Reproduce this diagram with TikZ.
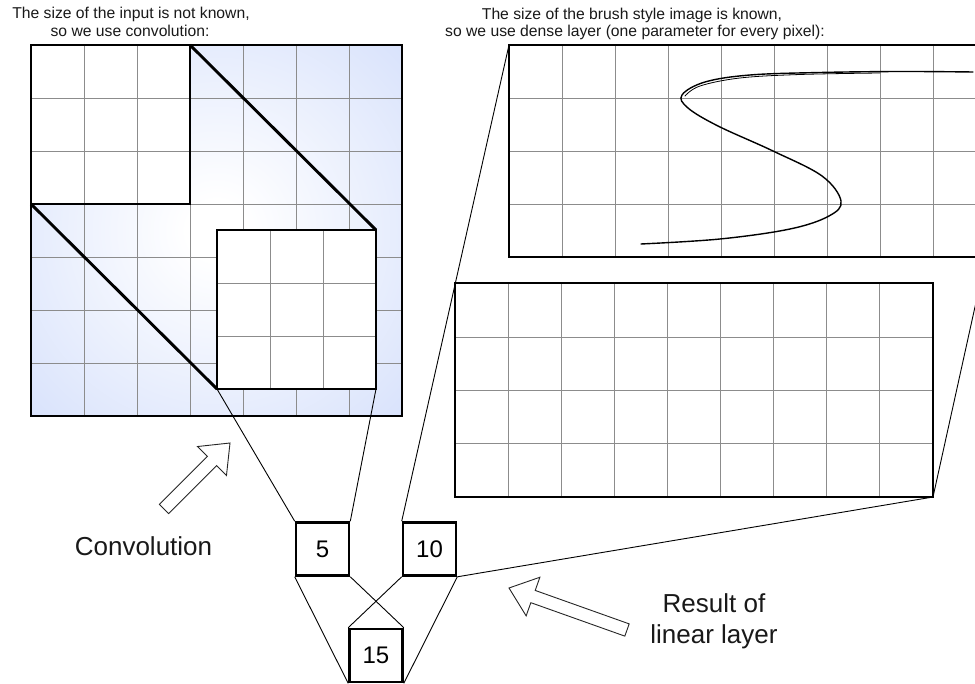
\documentclass[tikz,border=0pt]{standalone}
\usepackage{fontspec}
\setmainfont{Liberation Sans}
\usetikzlibrary{calc}
\definecolor{gridblue}{RGB}{200,214,250}
\definecolor{gridgray}{RGB}{140,140,140}
\pgfdeclareradialshading{convshade}{\pgfpoint{0bp}{0bp}}{color(0bp)=(white); color(4bp)=(white); color(38bp)=(gridblue!75!white); color(56bp)=(gridblue); color(72bp)=(gridblue)}
\begin{document}
\begin{tikzpicture}[x=1pt,y=-1pt,
  gline/.style={draw=gridgray,line width=0.9pt},
  boxborder/.style={draw=black,line width=2.9pt},
  link/.style={draw=black,line width=0.9pt},
  numbox/.style={draw=black,line width=2.6pt,minimum size=53pt,inner sep=0pt,font=\fontsize{24}{28}\selectfont},
  title/.style={font=\fontsize{15.7}{18}\selectfont,anchor=base,inner sep=0pt,text=black!90},
  biglabel/.style={font=\fontsize{26}{30}\selectfont,anchor=base,inner sep=0pt,text=black!90},
  blockarrow/.style={draw=black!85,line width=0.9pt,fill=white,line join=miter},
  curve/.style={draw=black,line width=1.4pt,line cap=round}]
\clip (0,0) rectangle (975,684);
\fill[white] (0,0) rectangle (975,684);

% ---------- left convolution grid ----------
\shade[shading=convshade] (31,45) rectangle (402,416);
\foreach \i in {1,...,6} {
  \draw[gline] ({31+53*\i},45) -- ({31+53*\i},416);
  \draw[gline] (31,{45+53*\i}) -- (402,{45+53*\i});
}
\draw[black,line width=1.1pt] (31,45) rectangle (402,416);

% kernel position 1
\fill[white] (31,45) rectangle (190,204);
\foreach \v in {84,137} { \draw[gline] (\v,45) -- (\v,204); }
\foreach \v in {98,151} { \draw[gline] (31,\v) -- (190,\v); }
\draw[boxborder] (31,45) rectangle (190,204);
\coordinate (k1-ne) at (190,45);
\coordinate (k1-sw) at (31,204);

% kernel position 2
\fill[white] (217,230) rectangle (376,389);
\foreach \v in {270,323} { \draw[gline] (\v,230) -- (\v,389); }
\foreach \v in {283,336} { \draw[gline] (217,\v) -- (376,\v); }
\draw[boxborder] (217,230) rectangle (376,389);
\coordinate (k2-ne) at (376,230);
\coordinate (k2-sw) at (217,389);
\coordinate (k2-se) at (376,389);

\draw[boxborder] (k1-ne) -- (k2-ne);
\draw[boxborder] (k1-sw) -- (k2-sw);

% ---------- top dense grid (brush image) ----------
\fill[white] (509,45) rectangle (986,257);
\foreach \i in {1,...,8} { \draw[gline] ({509+53*\i},45) -- ({509+53*\i},257); }
\foreach \v in {98,151,204} { \draw[gline] (509,\v) -- (986,\v); }
\draw[boxborder] (509,45) rectangle (986,257);
\coordinate (d1-nw) at (509,45);
\coordinate (d1-se) at (986,257);

% S-shaped brush stroke
\draw[curve] plot[smooth,tension=0.6] coordinates {(973,72) (900,71.5) (820,72.5) (750,75) (705,82) (682,95) (688,108) (718,126) (773,151) (822,176) (841,201) (829,216) (790,229) (720,239) (641,244)};
\draw[curve,line width=0.8pt] plot[smooth,tension=0.6] coordinates {(880,73) (800,74.5) (740,78) (700,86) (685,96)};

% ---------- bottom dense grid ----------
\fill[white] (455,283) rectangle (933,497);
\foreach \i in {1,...,8} { \draw[gline] ({455+53.1*\i},283) -- ({455+53.1*\i},497); }
\foreach \v in {337,390,443} { \draw[gline] (455,\v) -- (933,\v); }
\draw[boxborder] (455,283) rectangle (933,497);
\coordinate (d2-se) at (933,497);

% ---------- value boxes ----------
\node[numbox] (b5) at (322.5,549) {5};
\node[numbox] (b10) at (429.5,549) {10};
\node[numbox] (b15) at (376,655.5) {15};

% ---------- connectors ----------
\draw[link] (k2-sw) -- (b5.north west);
\draw[link] (k2-se) -- (b5.north east);
\draw[link] (b10.north west) -- (d1-nw);
\draw[link] (b10.south east) -- (d2-se);
\draw[link] (d2-se) -- (d1-se);
\draw[link] (b5.south west) -- (b15.south west);
\draw[link] (b5.south east) -- (b15.north east);
\draw[link] (b10.south west) -- (b15.north west);
\draw[link] (b10.south east) -- (b15.south east);

% ---------- block arrows ----------
\coordinate (ca-t) at (164,509);
\coordinate (ca-h) at (230,443);
\coordinate (ca-b) at ($(ca-h)!25.5pt!(ca-t)$);
\draw[blockarrow] ($(ca-t)!6.5pt!90:(ca-h)$) -- ($(ca-b)!6.5pt!-90:(ca-t)$) -- ($(ca-b)!20.5pt!-90:(ca-t)$) -- (ca-h) -- ($(ca-b)!20.5pt!90:(ca-t)$) -- ($(ca-b)!6.5pt!90:(ca-t)$) -- ($(ca-t)!6.5pt!-90:(ca-h)$) -- cycle;

\coordinate (ra-t) at (627,630);
\coordinate (ra-h) at (509,588);
\coordinate (ra-b) at ($(ra-h)!25.5pt!(ra-t)$);
\draw[blockarrow] ($(ra-t)!6.5pt!90:(ra-h)$) -- ($(ra-b)!6.5pt!-90:(ra-t)$) -- ($(ra-b)!20.5pt!-90:(ra-t)$) -- (ra-h) -- ($(ra-b)!20.5pt!90:(ra-t)$) -- ($(ra-b)!6.5pt!90:(ra-t)$) -- ($(ra-t)!6.5pt!-90:(ra-h)$) -- cycle;

% ---------- texts ----------
\node[title] (t1a) at (131,19) {The size of the input is not known,};
\node[title] (t1b) at (130,37) {so we use convolution:};
\node[title] (t2a) at (632,20) {The size of the brush style image is known,};
\node[title] (t2b) at (635,37) {so we use dense layer (one parameter for every pixel):};
\node[biglabel] (lc) at (143.5,555) {Convolution};
\node[biglabel] (lr1) at (714,612) {Result of};
\node[biglabel] (lr2) at (714,643) {linear layer};
\end{tikzpicture}
\end{document}
